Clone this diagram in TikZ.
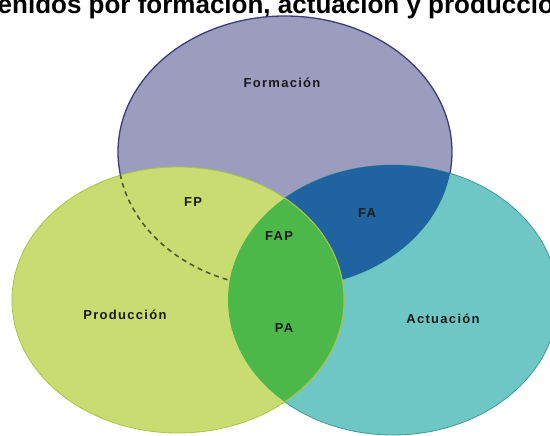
\documentclass[tikz,border=0pt]{standalone}
\usepackage{fontspec}
\setmainfont{Liberation Sans}
\newfontfamily\lblfont[LetterSpace=10]{Liberation Sans}
\definecolor{form}{HTML}{9C9CBE}
\definecolor{formline}{HTML}{3C3C7C}
\definecolor{prod}{HTML}{C9DC72}
\definecolor{prodline}{HTML}{A9C447}
\definecolor{act}{HTML}{6FC7C5}
\definecolor{actline}{HTML}{3E9A98}
\definecolor{fa}{HTML}{1F64A0}
\definecolor{pa}{HTML}{4DB84A}
\definecolor{dashc}{HTML}{4E5A32}
\tikzset{
  lbl/.style={font=\lblfont\bfseries\fontsize{13}{15}\selectfont, inner sep=0pt, text=black!90},
  formshape/.style={x radius=167, y radius=136},
  prodshape/.style={x radius=166, y radius=133},
  actshape/.style={x radius=165, y radius=135}
}
\begin{document}
\begin{tikzpicture}[x=1pt,y=-1pt]
\useasboundingbox (0,0) rectangle (550,436);
\clip (0,0) rectangle (550,436);
\fill[white] (0,0) rectangle (550,436);
\coordinate (cF) at (285,152);
\coordinate (cP) at (178,300);
\coordinate (cA) at (393,300);
% title (cut at the top edge, as in the reference)
\node[anchor=base west, inner sep=0pt, font=\bfseries\fontsize{26}{30}\selectfont] (title) at (-61.7,14) {Contenidos por formación, actuación y producción};
% Formación
\path[fill=form, draw=formline, line width=1.3pt] (cF) ellipse [formshape];
% Actuación
\path[fill=act, draw=actline, line width=0.8pt] (cA) ellipse [actshape];
% F and A
\begin{scope}
  \clip (cF) ellipse [formshape];
  \fill[fa] (cA) ellipse [actshape];
\end{scope}
% Producción
\path[fill=prod, draw=prodline, line width=0.8pt] (cP) ellipse [prodshape];
% hidden edge of Formación inside Producción
\begin{scope}
  \clip (cP) ellipse [prodshape];
  \draw[dashc, line width=1.6pt, dash pattern=on 5pt off 4pt] (cF) ellipse [formshape];
\end{scope}
% P and A
\begin{scope}
  \clip (cP) ellipse [prodshape];
  \fill[pa] (cA) ellipse [actshape];
\end{scope}
\begin{scope}
  \clip (cA) ellipse [actshape];
  \draw[prodline, line width=1pt] (cP) ellipse [prodshape];
\end{scope}
% labels
\node[lbl] (lF) at (282,83) {Formación};
\node[lbl] (lFP) at (193,202) {FP};
\node[lbl] (lFA) at (367,213) {FA};
\node[lbl] (lFAP) at (279,236) {FAP};
\node[lbl] (lP) at (125,315) {Producción};
\node[lbl] (lPA) at (284,328) {PA};
\node[lbl] (lA) at (443,319) {Actuación};
\end{tikzpicture}
\end{document}
